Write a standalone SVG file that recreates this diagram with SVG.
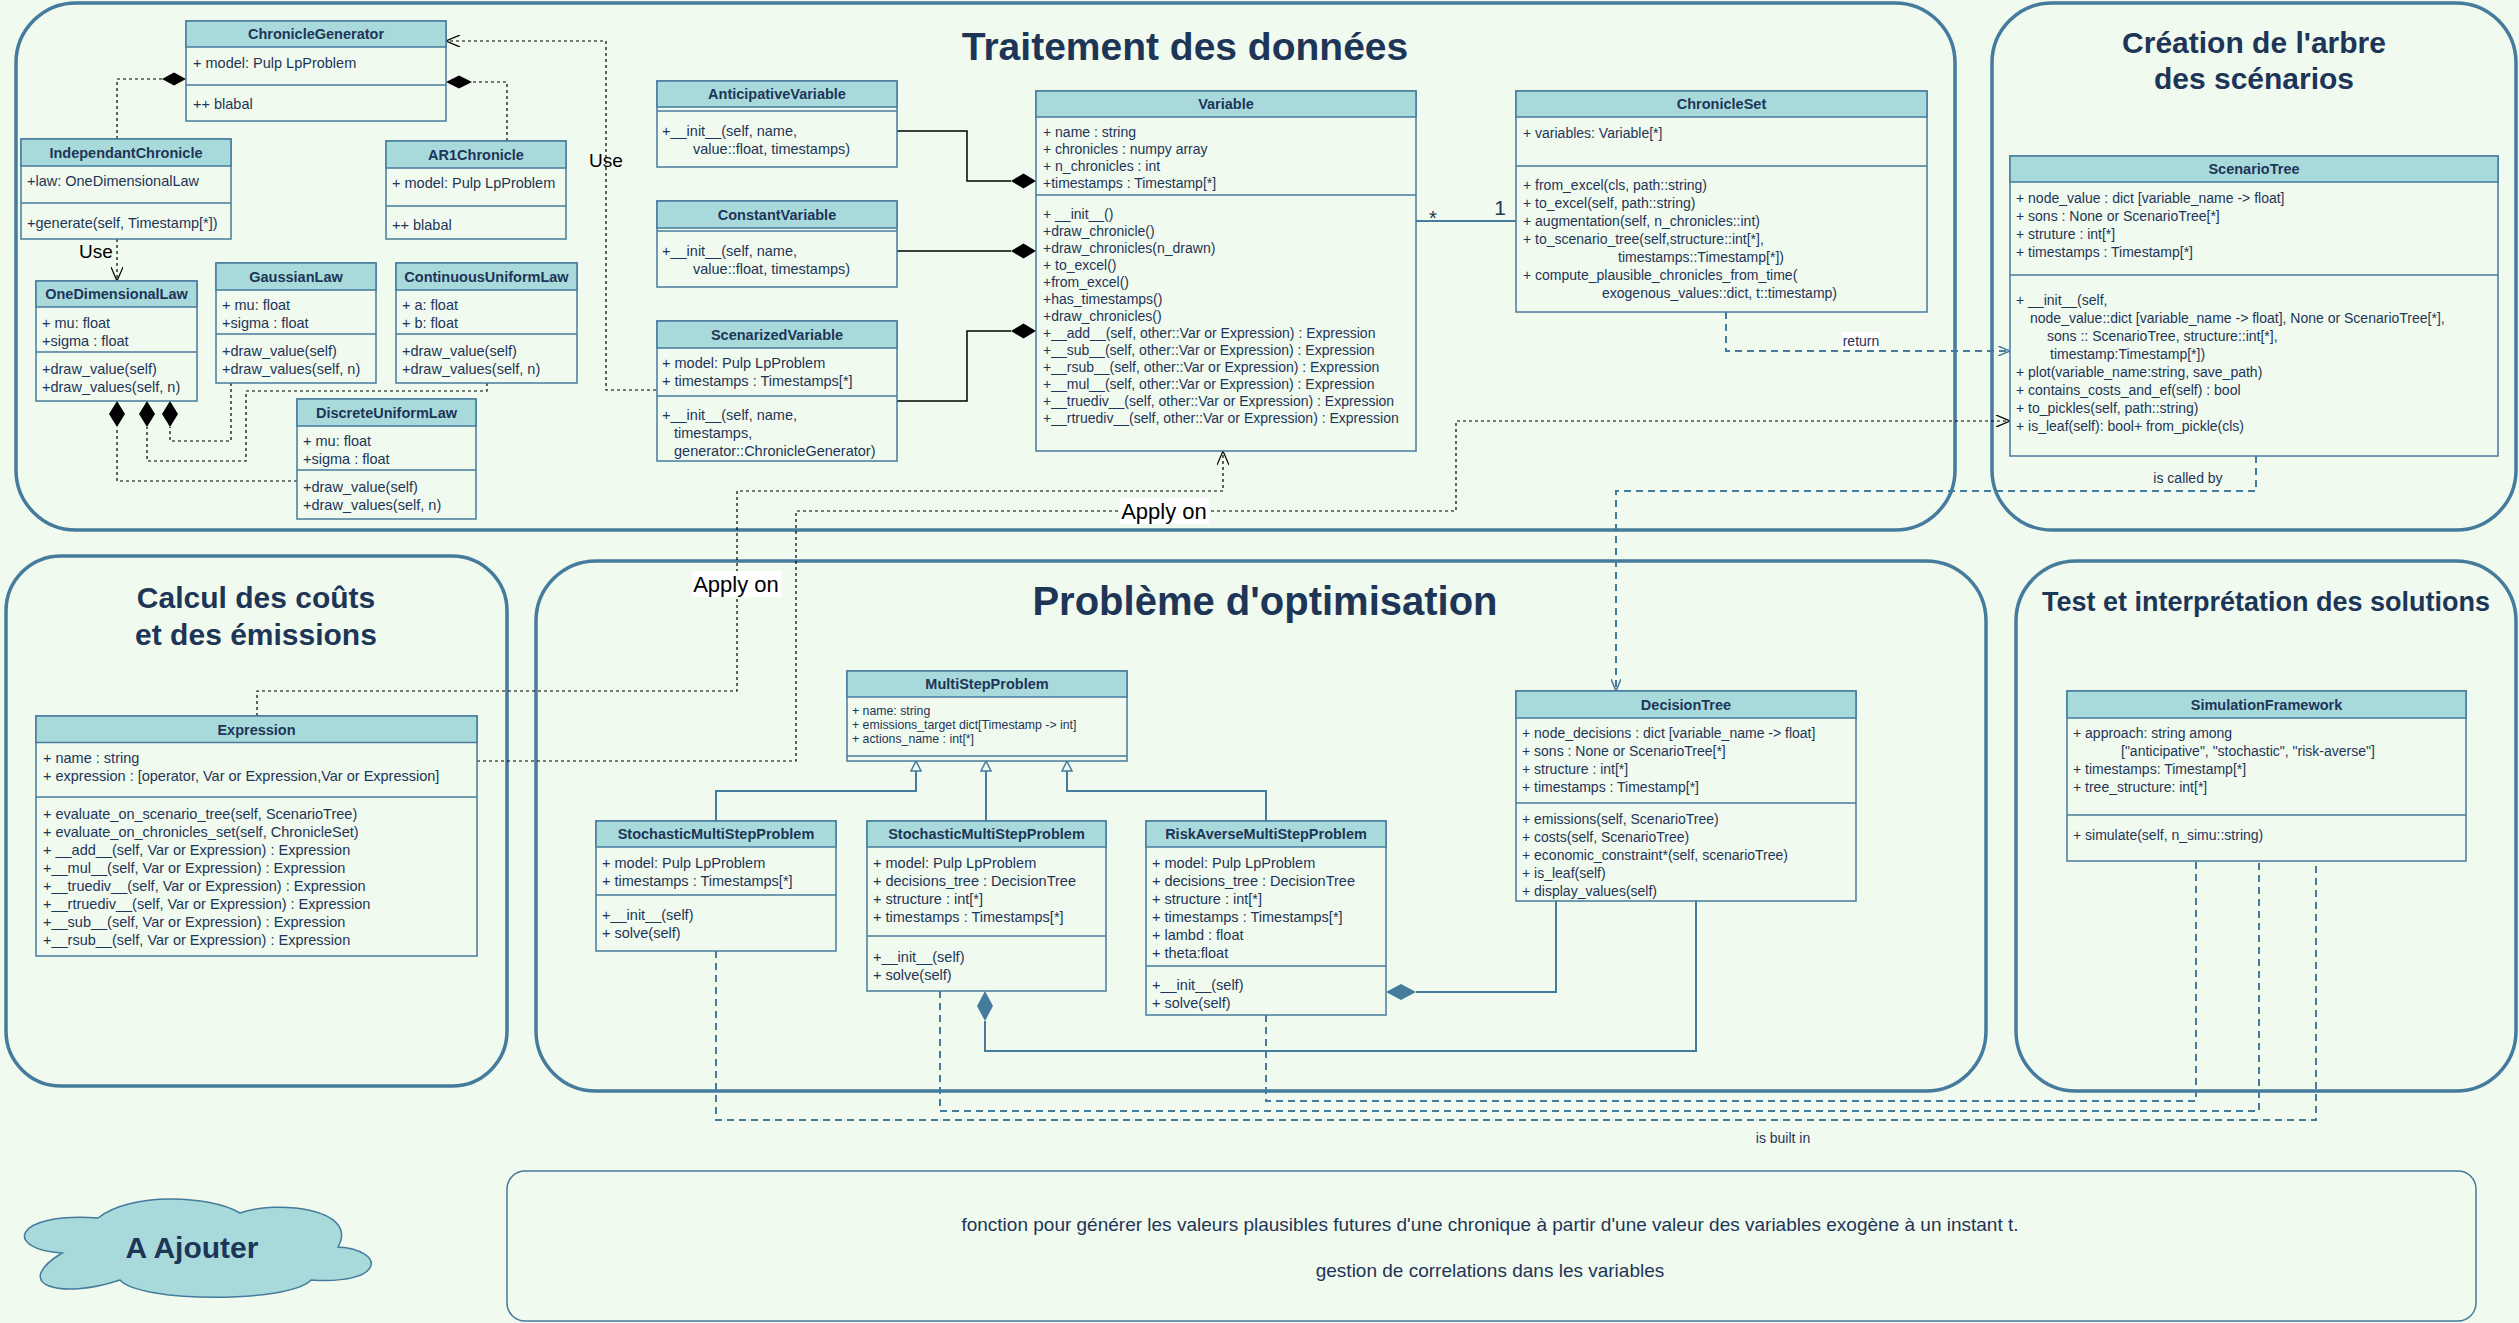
<svg xmlns="http://www.w3.org/2000/svg" width="2519" height="1323" viewBox="0 0 2519 1323">
<defs>
<style>
text{font-family:"Liberation Sans",Arial,Helvetica,sans-serif;fill:#1D3557}
.b{font-size:14.5px}
.v{font-size:14px}
.s{font-size:12.3px}
.h{font-size:14.5px;font-weight:bold;text-anchor:middle}
.body{fill:#F1FAEE;stroke:#457B9D;stroke-width:1.5}
.hd{fill:#A8DADC;stroke:#457B9D;stroke-width:1.5}
.sep{stroke:#457B9D;stroke-width:1.5}
.cont{fill:none;stroke:#457B9D;stroke-width:3.5}
.title{font-weight:bold;text-anchor:middle}
.dk{fill:#000}
.ds{fill:#457B9D}
.blk{fill:none;stroke:#000;stroke-width:1.5}
.dot{fill:none;stroke:#000;stroke-width:1.2;stroke-dasharray:3 3}
.sd{fill:none;stroke:#457B9D;stroke-width:2;stroke-dasharray:7 5}
.ss{fill:none;stroke:#457B9D;stroke-width:2}
.lbl{fill:#000;text-anchor:middle}
.cl{font-size:14px;text-anchor:middle}
.bg{fill:#FFFFFF}
</style>
<marker id="openK" viewBox="0 0 14 12" refX="14" refY="6" markerWidth="14" markerHeight="12" markerUnits="userSpaceOnUse" orient="auto"><path d="M0,0 L14,6 L0,12" fill="none" stroke="#000" stroke-width="1.2"/></marker>
<marker id="openS" viewBox="0 0 12 10" refX="12" refY="5" markerWidth="12" markerHeight="10" markerUnits="userSpaceOnUse" orient="auto"><path d="M0,0 L12,5 L0,10" fill="none" stroke="#457B9D" stroke-width="1.5"/></marker>
<marker id="tri" viewBox="0 0 12 12" refX="11" refY="6" markerWidth="12" markerHeight="12" markerUnits="userSpaceOnUse" orient="auto"><path d="M1,1 L11,6 L1,11 Z" fill="#F1FAEE" stroke="#457B9D" stroke-width="1.5"/></marker>
</defs>
<rect width="2519" height="1323" fill="#F1FAEE"/>

<g id="containers">
<rect class="cont" x="16" y="3" width="1939" height="527" rx="60"/>
<rect class="cont" x="1992" y="3" width="524" height="527" rx="60"/>
<rect class="cont" x="6" y="556" width="501" height="530" rx="55"/>
<rect class="cont" x="536" y="561" width="1450" height="530" rx="60"/>
<rect class="cont" x="2016" y="561" width="500" height="530" rx="60"/>
<text class="title" x="1185" y="60" font-size="39">Traitement des données</text>
<text class="title" x="2254" y="53" font-size="30">Création de l'arbre</text>
<text class="title" x="2254" y="89" font-size="30">des scénarios</text>
<text class="title" x="256" y="608" font-size="30">Calcul des coûts</text>
<text class="title" x="256" y="645" font-size="30">et des émissions</text>
<text class="title" x="1265" y="615" font-size="40">Problème d'optimisation</text>
<text class="title" x="2266" y="611" font-size="27">Test et interprétation des solutions</text>
</g>

<g id="connectors">
<path class="dot" d="M117,139 V79 H162"/>
<polygon class="dk" points="186,79 174,72.5 162,79 174,85.5"/>
<path class="dot" d="M507,141 V82 H472"/>
<polygon class="dk" points="446,82 459,75.5 472,82 459,88.5"/>
<path class="dot" d="M117,239 V281" marker-end="url(#openK)"/>
<text class="lbl" x="96" y="258" font-size="19">Use</text>
<path class="dot" d="M656,390 H606 V41 H446" marker-end="url(#openK)"/>
<text class="lbl" x="606" y="167" font-size="19">Use</text>
<path class="dot" d="M297,481 H117 V427"/>
<polygon class="dk" points="117,401 125,414 117,427 109,414"/>
<path class="dot" d="M487,383 V391 H246 V461 H147 V427"/>
<polygon class="dk" points="147,401 155,414 147,427 139,414"/>
<path class="dot" d="M231,383 V441 H170 V427"/>
<polygon class="dk" points="170,401 178,414 170,427 162,414"/>
<path class="blk" d="M897,131 H967 V181 H1011"/>
<polygon class="dk" points="1036,181 1023.5,173.5 1011,181 1023.5,188.5"/>
<path class="blk" d="M897,251 H1011"/>
<polygon class="dk" points="1036,251 1023.5,243.5 1011,251 1023.5,258.5"/>
<path class="blk" d="M897,401 H967 V331 H1011"/>
<polygon class="dk" points="1036,331 1023.5,323.5 1011,331 1023.5,338.5"/>
<path class="ss" d="M1416,221 H1516"/>
<text x="1433" y="225" font-size="20" text-anchor="middle">*</text>
<text x="1500" y="215" font-size="21" text-anchor="middle">1</text>
<path class="sd" d="M1726,312 V351 H2010" marker-end="url(#openS)"/>
<rect class="bg" x="1842" y="332" width="38" height="18"/>
<text class="cl" x="1861" y="346">return</text>
<path class="dot" d="M257,716 V691 H737 V491 H1223 V451" marker-end="url(#openK)"/>
<rect class="bg" x="692" y="571" width="89" height="26"/>
<text class="lbl" x="736" y="592" font-size="22">Apply on</text>
<path class="dot" d="M477,761 H796 V511 H1456 V421 H2010" marker-end="url(#openK)"/>
<rect class="bg" x="1120" y="498" width="89" height="26"/>
<text class="lbl" x="1164" y="519" font-size="22">Apply on</text>
<path class="sd" d="M2256,456 V491 H1616 V691" marker-end="url(#openS)"/>
<text class="cl" x="2188" y="483">is called by</text>
<path class="ss" d="M716,821 V791 H916 V761" marker-end="url(#tri)"/>
<path class="ss" d="M986,821 V761" marker-end="url(#tri)"/>
<path class="ss" d="M1266,821 V791 H1067 V761" marker-end="url(#tri)"/>
<path class="ss" d="M1556,901 V992 H1416"/>
<polygon class="ds" points="1386,992 1401,984 1416,992 1401,1000"/>
<path class="ss" d="M1696,901 V1051 H985 V1021"/>
<polygon class="ds" points="985,991 993,1006 985,1021 977,1006"/>
<path class="sd" d="M716,951 V1120 H2316 V862"/>
<path class="sd" d="M940,991 V1111 H2259 V862"/>
<path class="sd" d="M1266,1015 V1101 H2196 V862"/>
<text class="cl" x="1783" y="1143">is built in</text>
</g>

<g id="ChronicleGenerator">
<rect class="body" x="186" y="21" width="260" height="100"/>
<rect class="hd" x="186" y="21" width="260" height="26"/>
<text class="h" x="316" y="39">ChronicleGenerator</text>
<text class="b" x="193" y="68">+ model: Pulp LpProblem</text>
<line class="sep" x1="186" y1="85" x2="446" y2="85"/>
<text class="b" x="193" y="109">++ blabal</text>
</g>

<g id="IndependantChronicle">
<rect class="body" x="21" y="139" width="210" height="100"/>
<rect class="hd" x="21" y="139" width="210" height="27"/>
<text class="h" x="126" y="158">IndependantChronicle</text>
<text class="b" x="27" y="186">+law: OneDimensionalLaw</text>
<line class="sep" x1="21" y1="203" x2="231" y2="203"/>
<text class="b" x="27" y="228">+generate(self, Timestamp[*])</text>
</g>

<g id="AR1Chronicle">
<rect class="body" x="386" y="141" width="180" height="98"/>
<rect class="hd" x="386" y="141" width="180" height="27"/>
<text class="h" x="476" y="160">AR1Chronicle</text>
<text class="b" x="392" y="188">+ model: Pulp LpProblem</text>
<line class="sep" x1="386" y1="206" x2="566" y2="206"/>
<text class="b" x="392" y="230">++ blabal</text>
</g>

<g id="OneDimensionalLaw">
<rect class="body" x="36" y="281" width="161" height="120"/>
<rect class="hd" x="36" y="281" width="161" height="26"/>
<text class="h" x="116.5" y="299">OneDimensionalLaw</text>
<text class="b" x="42" y="328">+ mu: float</text>
<text class="b" x="42" y="346">+sigma : float</text>
<line class="sep" x1="36" y1="352" x2="197" y2="352"/>
<text class="b" x="42" y="374">+draw_value(self)</text>
<text class="b" x="42" y="392">+draw_values(self, n)</text>
</g>

<g id="GaussianLaw">
<rect class="body" x="216" y="263" width="160" height="120"/>
<rect class="hd" x="216" y="263" width="160" height="27"/>
<text class="h" x="296" y="282">GaussianLaw</text>
<text class="b" x="222" y="310">+ mu: float</text>
<text class="b" x="222" y="328">+sigma : float</text>
<line class="sep" x1="216" y1="334" x2="376" y2="334"/>
<text class="b" x="222" y="356">+draw_value(self)</text>
<text class="b" x="222" y="374">+draw_values(self, n)</text>
</g>

<g id="ContinuousUniformLaw">
<rect class="body" x="396" y="263" width="181" height="120"/>
<rect class="hd" x="396" y="263" width="181" height="27"/>
<text class="h" x="486.5" y="282">ContinuousUniformLaw</text>
<text class="b" x="402" y="310">+ a: float</text>
<text class="b" x="402" y="328">+ b: float</text>
<line class="sep" x1="396" y1="334" x2="577" y2="334"/>
<text class="b" x="402" y="356">+draw_value(self)</text>
<text class="b" x="402" y="374">+draw_values(self, n)</text>
</g>

<g id="DiscreteUniformLaw">
<rect class="body" x="297" y="399" width="179" height="120"/>
<rect class="hd" x="297" y="399" width="179" height="27"/>
<text class="h" x="386.5" y="418">DiscreteUniformLaw</text>
<text class="b" x="303" y="446">+ mu: float</text>
<text class="b" x="303" y="464">+sigma : float</text>
<line class="sep" x1="297" y1="470" x2="476" y2="470"/>
<text class="b" x="303" y="492">+draw_value(self)</text>
<text class="b" x="303" y="510">+draw_values(self, n)</text>
</g>

<g id="AnticipativeVariable">
<rect class="body" x="657" y="81" width="240" height="86"/>
<rect class="hd" x="657" y="81" width="240" height="26"/>
<text class="h" x="777" y="99">AnticipativeVariable</text>
<line class="sep" x1="657" y1="111" x2="897" y2="111"/>
<text class="b" x="662" y="136">+__init__(self, name,</text>
<text class="b" x="693" y="154">value::float, timestamps)</text>
</g>

<g id="ConstantVariable">
<rect class="body" x="657" y="201" width="240" height="86"/>
<rect class="hd" x="657" y="201" width="240" height="27"/>
<text class="h" x="777" y="220">ConstantVariable</text>
<line class="sep" x1="657" y1="231" x2="897" y2="231"/>
<text class="b" x="662" y="256">+__init__(self, name,</text>
<text class="b" x="693" y="274">value::float, timestamps)</text>
</g>

<g id="ScenarizedVariable">
<rect class="body" x="657" y="321" width="240" height="140"/>
<rect class="hd" x="657" y="321" width="240" height="27"/>
<text class="h" x="777" y="340">ScenarizedVariable</text>
<text class="b" x="662" y="368">+ model: Pulp LpProblem</text>
<text class="b" x="662" y="386">+ timestamps : Timestamps[*]</text>
<line class="sep" x1="657" y1="396" x2="897" y2="396"/>
<text class="b" x="662" y="420">+__init__(self, name,</text>
<text class="b" x="674" y="438">timestamps,</text>
<text class="b" x="674" y="456">generator::ChronicleGenerator)</text>
</g>

<g id="Variable">
<rect class="body" x="1036" y="91" width="380" height="360"/>
<rect class="hd" x="1036" y="91" width="380" height="26"/>
<text class="h" x="1226" y="109">Variable</text>
<text class="v" x="1043" y="137">+ name : string</text>
<text class="v" x="1043" y="154">+ chronicles : numpy array</text>
<text class="v" x="1043" y="171">+ n_chronicles : int</text>
<text class="v" x="1043" y="188">+timestamps : Timestamp[*]</text>
<line class="sep" x1="1036" y1="195" x2="1416" y2="195"/>
<text class="v" x="1043" y="219">+ __init__()</text>
<text class="v" x="1043" y="236">+draw_chronicle()</text>
<text class="v" x="1043" y="253">+draw_chronicles(n_drawn)</text>
<text class="v" x="1043" y="270">+ to_excel()</text>
<text class="v" x="1043" y="287">+from_excel()</text>
<text class="v" x="1043" y="304">+has_timestamps()</text>
<text class="v" x="1043" y="321">+draw_chronicles()</text>
<text class="v" x="1043" y="338">+__add__(self, other::Var or Expression) : Expression</text>
<text class="v" x="1043" y="355">+__sub__(self, other::Var or Expression) : Expression</text>
<text class="v" x="1043" y="372">+__rsub__(self, other::Var or Expression) : Expression</text>
<text class="v" x="1043" y="389">+__mul__(self, other::Var or Expression) : Expression</text>
<text class="v" x="1043" y="406">+__truediv__(self, other::Var or Expression) : Expression</text>
<text class="v" x="1043" y="423">+__rtruediv__(self, other::Var or Expression) : Expression</text>
</g>

<g id="ChronicleSet">
<rect class="body" x="1516" y="91" width="411" height="221"/>
<rect class="hd" x="1516" y="91" width="411" height="26"/>
<text class="h" x="1721.5" y="109">ChronicleSet</text>
<text class="v" x="1523" y="138">+ variables: Variable[*]</text>
<line class="sep" x1="1516" y1="166" x2="1927" y2="166"/>
<text class="v" x="1523" y="190">+ from_excel(cls, path::string)</text>
<text class="v" x="1523" y="208">+ to_excel(self, path::string)</text>
<text class="v" x="1523" y="226">+ augmentation(self, n_chronicles::int)</text>
<text class="v" x="1523" y="244">+ to_scenario_tree(self,structure::int[*],</text>
<text class="v" x="1618" y="262">timestamps::Timestamp[*])</text>
<text class="v" x="1523" y="280">+ compute_plausible_chronicles_from_time(</text>
<text class="v" x="1602" y="298">exogenous_values::dict, t::timestamp)</text>
</g>

<g id="ScenarioTree">
<rect class="body" x="2010" y="156" width="488" height="300"/>
<rect class="hd" x="2010" y="156" width="488" height="26"/>
<text class="h" x="2254" y="174">ScenarioTree</text>
<text class="v" x="2016" y="203">+ node_value : dict [variable_name -&gt; float]</text>
<text class="v" x="2016" y="221">+ sons : None or ScenarioTree[*]</text>
<text class="v" x="2016" y="239">+ struture : int[*]</text>
<text class="v" x="2016" y="257">+ timestamps : Timestamp[*]</text>
<line class="sep" x1="2010" y1="275" x2="2498" y2="275"/>
<text class="v" x="2016" y="305">+ __init__(self,</text>
<text class="v" x="2030" y="323">node_value::dict [variable_name -&gt; float], None or ScenarioTree[*],</text>
<text class="v" x="2047" y="341">sons :: ScenarioTree, structure::int[*],</text>
<text class="v" x="2050" y="359">timestamp:Timestamp[*])</text>
<text class="v" x="2016" y="377">+ plot(variable_name:string, save_path)</text>
<text class="v" x="2016" y="395">+ contains_costs_and_ef(self) : bool</text>
<text class="v" x="2016" y="413">+ to_pickles(self, path::string)</text>
<text class="v" x="2016" y="431">+ is_leaf(self): bool+ from_pickle(cls)</text>
</g>

<g id="Expression">
<rect class="body" x="36" y="716" width="441" height="240"/>
<rect class="hd" x="36" y="716" width="441" height="26.5"/>
<text class="h" x="256.5" y="735">Expression</text>
<text class="b" x="43" y="763">+ name : string</text>
<text class="b" x="43" y="781">+ expression : [operator, Var or Expression,Var or Expression]</text>
<line class="sep" x1="36" y1="797" x2="477" y2="797"/>
<text class="b" x="43" y="819">+ evaluate_on_scenario_tree(self, ScenarioTree)</text>
<text class="b" x="43" y="837">+ evaluate_on_chronicles_set(self, ChronicleSet)</text>
<text class="b" x="43" y="855">+ __add__(self, Var or Expression) : Expression</text>
<text class="b" x="43" y="873">+__mul__(self, Var or Expression) : Expression</text>
<text class="b" x="43" y="891">+__truediv__(self, Var or Expression) : Expression</text>
<text class="b" x="43" y="909">+__rtruediv__(self, Var or Expression) : Expression</text>
<text class="b" x="43" y="927">+__sub__(self, Var or Expression) : Expression</text>
<text class="b" x="43" y="945">+__rsub__(self, Var or Expression) : Expression</text>
</g>

<g id="MultiStepProblem">
<rect class="body" x="847" y="671" width="280" height="90"/>
<rect class="hd" x="847" y="671" width="280" height="26"/>
<text class="h" x="987" y="689">MultiStepProblem</text>
<text class="s" x="852" y="715">+ name: string</text>
<text class="s" x="852" y="729">+ emissions_target dict[Timestamp -&gt; int]</text>
<text class="s" x="852" y="743">+ actions_name : int[*]</text>
<line class="sep" x1="847" y1="756" x2="1127" y2="756"/>
</g>

<g id="StochasticMultiStepProblem1">
<rect class="body" x="596" y="821" width="240" height="130"/>
<rect class="hd" x="596" y="821" width="240" height="26"/>
<text class="h" x="716" y="839">StochasticMultiStepProblem</text>
<text class="b" x="602" y="868">+ model: Pulp LpProblem</text>
<text class="b" x="602" y="886">+ timestamps : Timestamps[*]</text>
<line class="sep" x1="596" y1="895" x2="836" y2="895"/>
<text class="b" x="602" y="920">+__init__(self)</text>
<text class="b" x="602" y="938">+ solve(self)</text>
</g>

<g id="StochasticMultiStepProblem2">
<rect class="body" x="867" y="821" width="239" height="170"/>
<rect class="hd" x="867" y="821" width="239" height="26"/>
<text class="h" x="986.5" y="839">StochasticMultiStepProblem</text>
<text class="b" x="873" y="868">+ model: Pulp LpProblem</text>
<text class="b" x="873" y="886">+ decisions_tree : DecisionTree</text>
<text class="b" x="873" y="904">+ structure : int[*]</text>
<text class="b" x="873" y="922">+ timestamps : Timestamps[*]</text>
<line class="sep" x1="867" y1="936" x2="1106" y2="936"/>
<text class="b" x="873" y="962">+__init__(self)</text>
<text class="b" x="873" y="980">+ solve(self)</text>
</g>

<g id="RiskAverseMultiStepProblem">
<rect class="body" x="1146" y="821" width="240" height="194"/>
<rect class="hd" x="1146" y="821" width="240" height="26"/>
<text class="h" x="1266" y="839">RiskAverseMultiStepProblem</text>
<text class="b" x="1152" y="868">+ model: Pulp LpProblem</text>
<text class="b" x="1152" y="886">+ decisions_tree : DecisionTree</text>
<text class="b" x="1152" y="904">+ structure : int[*]</text>
<text class="b" x="1152" y="922">+ timestamps : Timestamps[*]</text>
<text class="b" x="1152" y="940">+ lambd : float</text>
<text class="b" x="1152" y="958">+ theta:float</text>
<line class="sep" x1="1146" y1="966" x2="1386" y2="966"/>
<text class="b" x="1152" y="990">+__init__(self)</text>
<text class="b" x="1152" y="1008">+ solve(self)</text>
</g>

<g id="DecisionTree">
<rect class="body" x="1516" y="691" width="340" height="210"/>
<rect class="hd" x="1516" y="691" width="340" height="27"/>
<text class="h" x="1686" y="710">DecisionTree</text>
<text class="v" x="1522" y="738">+ node_decisions : dict [variable_name -&gt; float]</text>
<text class="v" x="1522" y="756">+ sons : None or ScenarioTree[*]</text>
<text class="v" x="1522" y="774">+ structure : int[*]</text>
<text class="v" x="1522" y="792">+ timestamps : Timestamp[*]</text>
<line class="sep" x1="1516" y1="803" x2="1856" y2="803"/>
<text class="v" x="1522" y="824">+ emissions(self, ScenarioTree)</text>
<text class="v" x="1522" y="842">+ costs(self, ScenarioTree)</text>
<text class="v" x="1522" y="860">+ economic_constraint*(self, scenarioTree)</text>
<text class="v" x="1522" y="878">+ is_leaf(self)</text>
<text class="v" x="1522" y="896">+ display_values(self)</text>
</g>

<g id="SimulationFramework">
<rect class="body" x="2067" y="691" width="399" height="170"/>
<rect class="hd" x="2067" y="691" width="399" height="27"/>
<text class="h" x="2266.5" y="710">SimulationFramework</text>
<text class="v" x="2073" y="738">+ approach: string among</text>
<text class="v" x="2121" y="756">["anticipative", "stochastic", "risk-averse"]</text>
<text class="v" x="2073" y="774">+ timestamps: Timestamp[*]</text>
<text class="v" x="2073" y="792">+ tree_structure: int[*]</text>
<line class="sep" x1="2067" y1="815" x2="2466" y2="815"/>
<text class="v" x="2073" y="840">+ simulate(self, n_simu::string)</text>
</g>

<g id="AAjouter">
<path d="M98,1218 C130,1192 210,1195 240,1213 C275,1200 360,1208 338,1247 C386,1250 386,1285 311,1280 C290,1303 140,1303 120,1280 C60,1300 10,1285 62,1253 C5,1250 10,1212 98,1218 Z" fill="#A8DADC" stroke="#457B9D" stroke-width="1.5"/>
<text class="title" x="192" y="1258" font-size="30">A Ajouter</text>
</g>

<g id="Notes">
<rect x="507" y="1171" width="1969" height="150" rx="18" fill="none" stroke="#457B9D" stroke-width="1.5"/>
<text x="1490" y="1231" font-size="19" text-anchor="middle">fonction pour générer les valeurs plausibles futures d'une chronique à partir d'une valeur des variables exogène à un instant t.</text>
<text x="1490" y="1277" font-size="19" text-anchor="middle">gestion de correlations dans les variables</text>
</g>
</svg>
